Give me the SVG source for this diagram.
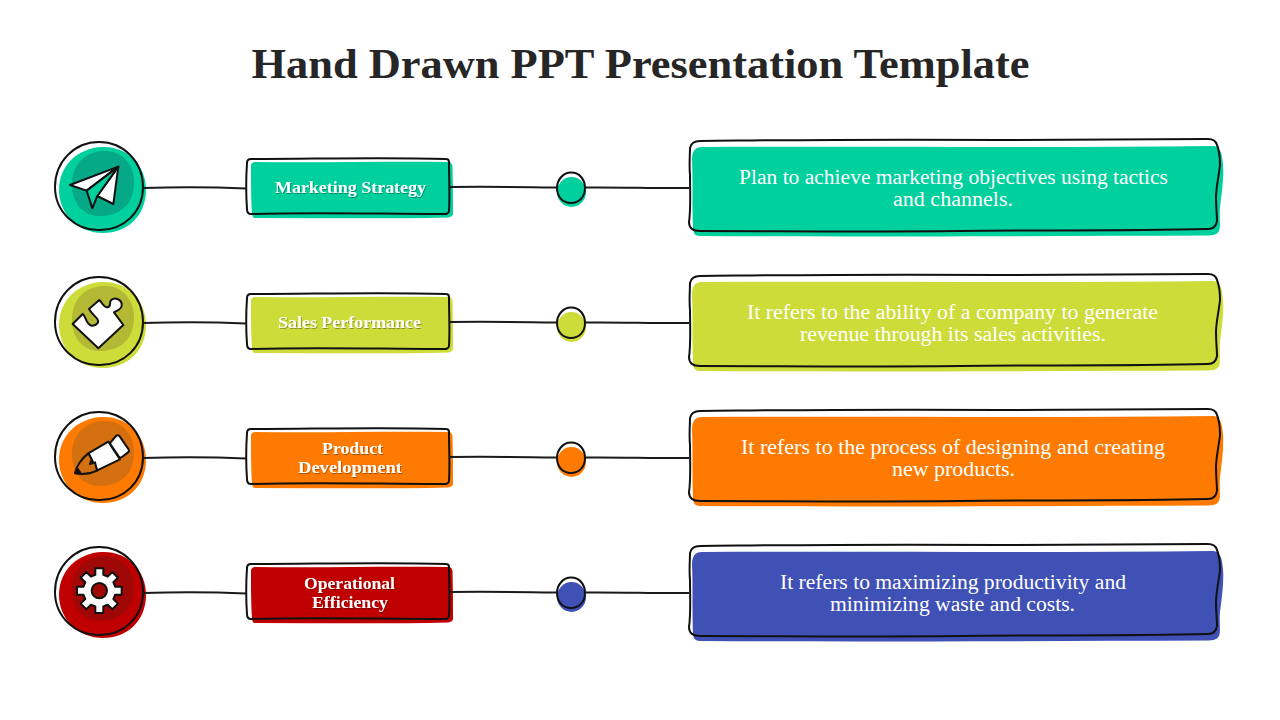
<svg xmlns="http://www.w3.org/2000/svg" width="1280" height="720" viewBox="0 0 1280 720">
<style>
text{font-family:"Liberation Serif","Times New Roman",serif;text-anchor:middle}
.title{font-size:43px;font-weight:700;fill:#262626}
.lb{font-size:17.5px;font-weight:700;fill:#fff;filter:url(#sh)}
.ds{font-size:20.5px;fill:#fff}
.ol{fill:none;stroke:#111;stroke-width:2;stroke-linecap:round;stroke-linejoin:round}
.ic{stroke:#111;stroke-width:6;stroke-linejoin:round;stroke-linecap:round}
.wh{fill:#fff}
.conn path{fill:none;stroke:#1a1a1a;stroke-width:2}
.teal{fill:#00CF9E}.lime{fill:#CDDC39}.orange{fill:#FF7A00}.red{fill:#C00000}.blue{fill:#3F51B5}
</style>
<defs>
<filter id="sh" x="-10%" y="-20%" width="120%" height="150%"><feDropShadow dx="0.8" dy="1" stdDeviation="0.6" flood-color="#000" flood-opacity="0.35"/></filter>
<path id="cfill" d="M102,147C127,146 146,165 146,190C146,216 127,233 103,233C78,233 59,214 59,190C59,165 78,148 102,147Z"/>
<path id="cblob" d="M103,151C122,150 134,164 134,182C134,203 122,215 102,216C84,217 72,204 72,185C72,165 84,152 103,151Z"/>
<path id="cout" class="ol" d="M99,142C124,142 143,162 143,187C143,212 124,230 100,230C76,231 55,212 55,187C55,162 74,142 99,142Z"/>
<path id="lfill" d="M255,162C320,163 385,161 449,162C451,162 452,164 452.500,166C453,182 453,198 453,214C453,216 451,217 448,217.500C385,219 320,218 255,218C253,218 252,216 252,213C251,198 251,180 251,166C251,163 253,162 255,162Z"/>
<path id="lout" class="ol" d="M251,159C315,159 380,157 446,159C448,159 449,160 449,162C449,178 450,195 449,211C449,213 448,213 446,214C380,214 315,212 251,214C248,214 247,212 247,209C246,195 246,178 247,163C247,160 249,159 251,159Z"/>
<ellipse id="dfill" cx="571.500" cy="192" rx="14.500" ry="15"/>
<path id="dout" class="ol" d="M571,172.500C580,172.500 585,180 585,188C585,197 579,203 571,203C563,203 557,197 557,188C557,180 563,172.500 571,172.500Z"/>
<path id="bfill" d="M702,147C860,146 1040,148 1213,146C1218,146 1221,150 1222,157C1225,172 1222,190 1220,207C1219,218 1221,226 1219,231C1217,235 1213,235 1209,235.500C1040,236 860,237 700,236C695,236 693,233 693,228C692,205 693,180 692,160C692,151 695,147 702,147Z"/>
<path id="bout" class="ol" d="M700,141C800,140 860,139 1000,140C1080,139 1150,139 1208,139C1213,139 1216,141 1217,145C1220,152 1220,158 1220,165C1219,175 1216,188 1216,197C1216,208 1217,214 1217,221C1216,227 1213,229 1208,229C1120,231 1040,230 960,231C860,232 780,231 700,231C693,231 689,228 689,222C691,210 690,190 690,175C689,165 690,155 690,148C691,143 695,141 700,141Z"/>
</defs>

<rect width="1280" height="720" fill="#fff"/>
<text class="title" x="640.500" y="78" textLength="778" lengthAdjust="spacingAndGlyphs">Hand Drawn PPT Presentation Template</text>

<g id="icon-marketing">
<use href="#cfill" class="teal"/><use href="#cblob" fill="#06A987"/><use href="#cout"/>
<g transform="translate(40,125) scale(.3333)">
<path class="ic wh" d="M235,125L90,180L140,197Z"/>
<path class="ic wh" d="M235,125L172,213L220,237Z"/>
<path class="ic" fill="#00CF9E" d="M235,125L140,197L157,250L172,213Z"/>
</g>
</g>
<g id="label-marketing">
<use href="#lfill" class="teal"/><use href="#lout"/>
<text class="lb" x="350.500" y="193" textLength="151" lengthAdjust="spacingAndGlyphs">Marketing Strategy</text>
</g>
<g id="dot-marketing"><use href="#dfill" class="teal"/><use href="#dout"/></g>
<g id="desc-marketing">
<use href="#bfill" class="teal"/><use href="#bout"/>
<text class="ds"><tspan x="953.500" y="184" textLength="429" lengthAdjust="spacingAndGlyphs">Plan to achieve marketing objectives using tactics</tspan><tspan x="953" y="206" textLength="120" lengthAdjust="spacingAndGlyphs">and channels.</tspan></text>
</g>

<g id="icon-sales">
<g transform="translate(0,135)"><use href="#cfill" class="lime"/><use href="#cblob" fill="#B3B935"/><use href="#cout"/></g>
<g transform="translate(40,125) scale(.3333)">
<path class="ic wh" d="M98,597L128,567C138,572 137,600 155,602C172,603 178,590 172,582C166,574 157,568 147,552L178,525C187,533 190,547 202,547C214,546 208,535 212,527C220,516 240,520 245,535C249,551 232,556 222,562L250,600L175,670Z"/>
</g>
</g>
<g id="label-sales">
<g transform="translate(0,135)"><use href="#lfill" class="lime"/><use href="#lout"/></g>
<text class="lb" x="349.500" y="328" textLength="143" lengthAdjust="spacingAndGlyphs">Sales Performance</text>
</g>
<g id="dot-sales" transform="translate(0,135)"><use href="#dfill" class="lime"/><use href="#dout"/></g>
<g id="desc-sales">
<g transform="translate(0,135)"><use href="#bfill" class="lime"/><use href="#bout"/></g>
<text class="ds"><tspan x="952.500" y="319" textLength="411" lengthAdjust="spacingAndGlyphs">It refers to the ability of a company to generate</tspan><tspan x="953" y="341" textLength="306" lengthAdjust="spacingAndGlyphs">revenue through its sales activities.</tspan></text>
</g>

<g id="icon-product">
<g transform="translate(0,270)"><use href="#cfill" class="orange"/><use href="#cblob" fill="#D4700F"/><use href="#cout"/></g>
<g transform="translate(40,400) scale(.3333)">
<path class="ic wh" d="M145,160L205,125L240,178L170,212L172,210Z"/>
<path class="ic wh" d="M212,127L228,108C232,104 236,105 239,109L265,147C268,151 267,155 263,158L246,171C242,174 239,173 236,169L212,134C210,131 210,129 212,127Z"/>
<path class="ic" fill="#D4700F" d="M145,160L155,178L150,192L165,187L171,212C150,222 125,224 105,220C108,200 125,175 145,160Z"/>
<path d="M105,220L112,204L122,218Z" fill="#111" stroke="#111" stroke-width="4" stroke-linejoin="round"/>
</g>
</g>
<g id="label-product">
<g transform="translate(0,270)"><use href="#lfill" class="orange"/><use href="#lout"/></g>
<text class="lb"><tspan x="352.500" y="454" textLength="61" lengthAdjust="spacingAndGlyphs">Product</tspan><tspan x="350" y="473" textLength="104" lengthAdjust="spacingAndGlyphs">Development</tspan></text>
</g>
<g id="dot-product" transform="translate(0,270)"><use href="#dfill" class="orange"/><use href="#dout"/></g>
<g id="desc-product">
<g transform="translate(0,270)"><use href="#bfill" class="orange"/><use href="#bout"/></g>
<text class="ds"><tspan x="953" y="454" textLength="424" lengthAdjust="spacingAndGlyphs">It refers to the process of designing and creating</tspan><tspan x="953.500" y="476" textLength="123" lengthAdjust="spacingAndGlyphs">new products.</tspan></text>
</g>

<g id="icon-operational">
<g transform="translate(0,405)"><use href="#cfill" class="red"/><use href="#cblob" fill="#A00707"/><use href="#cout"/></g>
<g transform="translate(40,400) scale(.3333)">
<path class="ic wh" transform="translate(178,572)" d="M-12,-47.500L-12,-67L12,-67L12,-47.500L25.100,-42.100L38.900,-55.900L55.900,-38.900L42.100,-25.100L47.500,-12L67,-12L67,12L47.500,12L42.100,25.100L55.900,38.900L38.900,55.900L25.100,42.100L12,47.500L12,67L-12,67L-12,47.500L-25.100,42.100L-38.900,55.900L-55.900,38.900L-42.100,25.100L-47.500,12L-67,12L-67,-12L-47.500,-12L-42.100,-25.100L-55.900,-38.900L-38.900,-55.900L-25.100,-42.100Z"/>
<circle class="ic" cx="178" cy="572" r="23" fill="#A00707"/>
</g>
</g>
<g id="label-operational">
<g transform="translate(0,405)"><use href="#lfill" class="red"/><use href="#lout"/></g>
<text class="lb"><tspan x="349.500" y="589" textLength="91" lengthAdjust="spacingAndGlyphs">Operational</tspan><tspan x="350" y="608" textLength="76" lengthAdjust="spacingAndGlyphs">Efficiency</tspan></text>
</g>
<g id="dot-operational" transform="translate(0,405)"><use href="#dfill" class="blue"/><use href="#dout"/></g>
<g id="desc-operational">
<g transform="translate(0,405)"><use href="#bfill" class="blue"/><use href="#bout"/></g>
<text class="ds"><tspan x="953" y="589" textLength="346" lengthAdjust="spacingAndGlyphs">It refers to maximizing productivity and</tspan><tspan x="952.500" y="611" textLength="245" lengthAdjust="spacingAndGlyphs">minimizing waste and costs.</tspan></text>
</g>

<g id="connectors" class="conn">
<path d="M143,188C180,187 210,187 246,188.500"/>
<path d="M449,187C490,186.500 525,187 557,187.500"/>
<path d="M585,187.500C620,187 655,188.500 689,188"/>
<path d="M143,323C180,322 210,322 246,323.500"/>
<path d="M449,322C490,321.500 525,322 557,322.500"/>
<path d="M585,322.500C620,322 655,323.500 689,323"/>
<path d="M143,458C180,457 210,457 246,458.500"/>
<path d="M449,457C490,456.500 525,457 557,457.500"/>
<path d="M585,457.500C620,457 655,458.500 689,458"/>
<path d="M143,593C180,592 210,592 246,593.500"/>
<path d="M449,592C490,591.500 525,592 557,592.500"/>
<path d="M585,592.500C620,592 655,593.500 689,593"/>
</g>
</svg>
